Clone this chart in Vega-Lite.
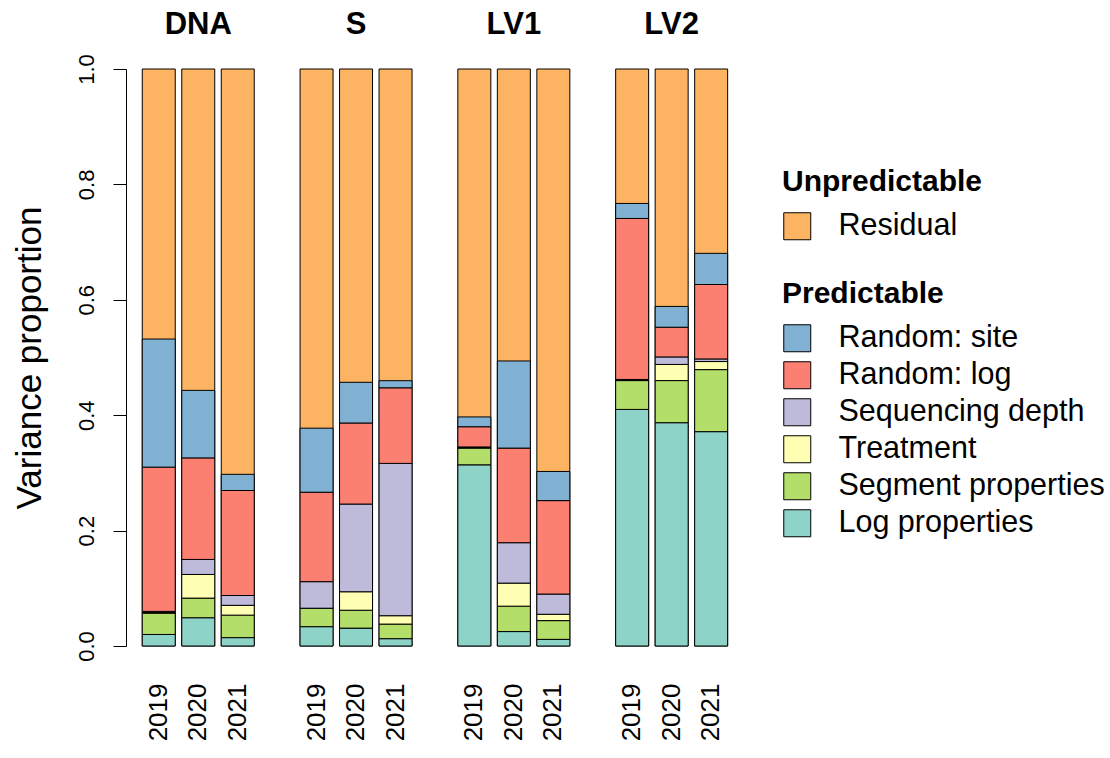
{
  "$schema": "https://vega.github.io/schema/vega-lite/v6.json",
  "background": "white",
  "padding": {"left": 12, "top": 9, "right": 5, "bottom": 5},
  "datasets": {
    "components": [
      {"component": "Log properties", "rank": 1},
      {"component": "Segment properties", "rank": 2},
      {"component": "Treatment", "rank": 3},
      {"component": "Sequencing depth", "rank": 4},
      {"component": "Random: log", "rank": 5},
      {"component": "Random: site", "rank": 6},
      {"component": "Residual", "rank": 7}
    ]
  },
  "data": {"values": [
    {"group": "DNA", "year": "2019", "component": "Log properties", "value": 0.020},
    {"group": "DNA", "year": "2019", "component": "Segment properties", "value": 0.037},
    {"group": "DNA", "year": "2019", "component": "Treatment", "value": 0.001},
    {"group": "DNA", "year": "2019", "component": "Sequencing depth", "value": 0.002},
    {"group": "DNA", "year": "2019", "component": "Random: log", "value": 0.250},
    {"group": "DNA", "year": "2019", "component": "Random: site", "value": 0.222},
    {"group": "DNA", "year": "2019", "component": "Residual", "value": 0.468},
    {"group": "DNA", "year": "2020", "component": "Log properties", "value": 0.049},
    {"group": "DNA", "year": "2020", "component": "Segment properties", "value": 0.034},
    {"group": "DNA", "year": "2020", "component": "Treatment", "value": 0.041},
    {"group": "DNA", "year": "2020", "component": "Sequencing depth", "value": 0.026},
    {"group": "DNA", "year": "2020", "component": "Random: log", "value": 0.176},
    {"group": "DNA", "year": "2020", "component": "Random: site", "value": 0.117},
    {"group": "DNA", "year": "2020", "component": "Residual", "value": 0.557},
    {"group": "DNA", "year": "2021", "component": "Log properties", "value": 0.0145},
    {"group": "DNA", "year": "2021", "component": "Segment properties", "value": 0.039},
    {"group": "DNA", "year": "2021", "component": "Treatment", "value": 0.017},
    {"group": "DNA", "year": "2021", "component": "Sequencing depth", "value": 0.017},
    {"group": "DNA", "year": "2021", "component": "Random: log", "value": 0.182},
    {"group": "DNA", "year": "2021", "component": "Random: site", "value": 0.028},
    {"group": "DNA", "year": "2021", "component": "Residual", "value": 0.7025},
    {"group": "S", "year": "2019", "component": "Log properties", "value": 0.0335},
    {"group": "S", "year": "2019", "component": "Segment properties", "value": 0.032},
    {"group": "S", "year": "2019", "component": "Treatment", "value": 0.0},
    {"group": "S", "year": "2019", "component": "Sequencing depth", "value": 0.046},
    {"group": "S", "year": "2019", "component": "Random: log", "value": 0.155},
    {"group": "S", "year": "2019", "component": "Random: site", "value": 0.111},
    {"group": "S", "year": "2019", "component": "Residual", "value": 0.6225},
    {"group": "S", "year": "2020", "component": "Log properties", "value": 0.031},
    {"group": "S", "year": "2020", "component": "Segment properties", "value": 0.031},
    {"group": "S", "year": "2020", "component": "Treatment", "value": 0.032},
    {"group": "S", "year": "2020", "component": "Sequencing depth", "value": 0.152},
    {"group": "S", "year": "2020", "component": "Random: log", "value": 0.1405},
    {"group": "S", "year": "2020", "component": "Random: site", "value": 0.0705},
    {"group": "S", "year": "2020", "component": "Residual", "value": 0.543},
    {"group": "S", "year": "2021", "component": "Log properties", "value": 0.0127},
    {"group": "S", "year": "2021", "component": "Segment properties", "value": 0.0253},
    {"group": "S", "year": "2021", "component": "Treatment", "value": 0.0145},
    {"group": "S", "year": "2021", "component": "Sequencing depth", "value": 0.264},
    {"group": "S", "year": "2021", "component": "Random: log", "value": 0.131},
    {"group": "S", "year": "2021", "component": "Random: site", "value": 0.0123},
    {"group": "S", "year": "2021", "component": "Residual", "value": 0.5402},
    {"group": "LV1", "year": "2019", "component": "Log properties", "value": 0.314},
    {"group": "LV1", "year": "2019", "component": "Segment properties", "value": 0.029},
    {"group": "LV1", "year": "2019", "component": "Treatment", "value": 0.001},
    {"group": "LV1", "year": "2019", "component": "Sequencing depth", "value": 0.001},
    {"group": "LV1", "year": "2019", "component": "Random: log", "value": 0.035},
    {"group": "LV1", "year": "2019", "component": "Random: site", "value": 0.017},
    {"group": "LV1", "year": "2019", "component": "Residual", "value": 0.603},
    {"group": "LV1", "year": "2020", "component": "Log properties", "value": 0.025},
    {"group": "LV1", "year": "2020", "component": "Segment properties", "value": 0.044},
    {"group": "LV1", "year": "2020", "component": "Treatment", "value": 0.040},
    {"group": "LV1", "year": "2020", "component": "Sequencing depth", "value": 0.070},
    {"group": "LV1", "year": "2020", "component": "Random: log", "value": 0.164},
    {"group": "LV1", "year": "2020", "component": "Random: site", "value": 0.151},
    {"group": "LV1", "year": "2020", "component": "Residual", "value": 0.506},
    {"group": "LV1", "year": "2021", "component": "Log properties", "value": 0.0115},
    {"group": "LV1", "year": "2021", "component": "Segment properties", "value": 0.0325},
    {"group": "LV1", "year": "2021", "component": "Treatment", "value": 0.011},
    {"group": "LV1", "year": "2021", "component": "Sequencing depth", "value": 0.035},
    {"group": "LV1", "year": "2021", "component": "Random: log", "value": 0.162},
    {"group": "LV1", "year": "2021", "component": "Random: site", "value": 0.0505},
    {"group": "LV1", "year": "2021", "component": "Residual", "value": 0.6975},
    {"group": "LV2", "year": "2019", "component": "Log properties", "value": 0.410},
    {"group": "LV2", "year": "2019", "component": "Segment properties", "value": 0.050},
    {"group": "LV2", "year": "2019", "component": "Treatment", "value": 0.001},
    {"group": "LV2", "year": "2019", "component": "Sequencing depth", "value": 0.001},
    {"group": "LV2", "year": "2019", "component": "Random: log", "value": 0.279},
    {"group": "LV2", "year": "2019", "component": "Random: site", "value": 0.026},
    {"group": "LV2", "year": "2019", "component": "Residual", "value": 0.233},
    {"group": "LV2", "year": "2020", "component": "Log properties", "value": 0.387},
    {"group": "LV2", "year": "2020", "component": "Segment properties", "value": 0.073},
    {"group": "LV2", "year": "2020", "component": "Treatment", "value": 0.028},
    {"group": "LV2", "year": "2020", "component": "Sequencing depth", "value": 0.013},
    {"group": "LV2", "year": "2020", "component": "Random: log", "value": 0.0515},
    {"group": "LV2", "year": "2020", "component": "Random: site", "value": 0.036},
    {"group": "LV2", "year": "2020", "component": "Residual", "value": 0.4115},
    {"group": "LV2", "year": "2021", "component": "Log properties", "value": 0.3715},
    {"group": "LV2", "year": "2021", "component": "Segment properties", "value": 0.1075},
    {"group": "LV2", "year": "2021", "component": "Treatment", "value": 0.014},
    {"group": "LV2", "year": "2021", "component": "Sequencing depth", "value": 0.0045},
    {"group": "LV2", "year": "2021", "component": "Random: log", "value": 0.129},
    {"group": "LV2", "year": "2021", "component": "Random: site", "value": 0.054},
    {"group": "LV2", "year": "2021", "component": "Residual", "value": 0.3195}
  ]},
  "transform": [
    {"lookup": "component", "from": {"data": {"name": "components"}, "key": "component", "fields": ["rank"]}}
  ],
  "facet": {
    "column": {
      "field": "group", "type": "nominal", "sort": ["DNA", "S", "LV1", "LV2"], "title": null,
      "header": {"labelFontSize": 31, "labelFontWeight": "bold", "labelFont": "Liberation Sans", "labelColor": "black", "labelPadding": 27}
    }
  },
  "spacing": 38.8,
  "spec": {
    "width": 118.5,
    "height": 577,
    "encoding": {
      "x": {
        "field": "year", "type": "ordinal",
        "scale": {"paddingInner": 0.165, "paddingOuter": 0.0825},
        "axis": {"title": null, "domain": false, "ticks": false, "tickSize": 0, "labelAngle": 270, "labelAlign": "right", "labelBaseline": "middle", "labelFontSize": 26, "labelPadding": 36, "labelColor": "black", "labelFont": "Liberation Sans"}
      }
    },
    "layer": [
      {
        "transform": [{"filter": "datum.component === 'Residual'"}],
        "mark": {"type": "bar", "stroke": "black", "strokeWidth": 1},
        "encoding": {
          "y": {
            "field": "value", "type": "quantitative", "stack": "normalize", "title": "Variance proportion",
            "scale": {"domain": [0, 1]},
            "axis": {"values": [0, 0.2, 0.4, 0.6, 0.8, 1], "format": ".1f", "grid": false, "domainColor": "black", "tickColor": "black", "tickSize": 13, "offset": 13, "labelAngle": 270, "labelAlign": "center", "labelBaseline": "alphabetic", "labelFontSize": 22, "labelPadding": 20, "labelColor": "black", "labelFont": "Liberation Sans", "titleFont": "Liberation Sans", "titleFontSize": 35, "titleFontWeight": "normal", "titleColor": "black", "titlePadding": 28}
          },
          "color": {
            "field": "component", "type": "nominal",
            "scale": {"domain": ["Residual"], "range": ["#FDB462"]},
            "legend": {"title": "Unpredictable", "orient": "none", "legendX": 643, "legendY": 98}
          }
        }
      },
      {
        "transform": [{"filter": "datum.component !== 'Residual'"}],
        "mark": {"type": "bar", "stroke": "black", "strokeWidth": 1},
        "encoding": {
          "y": {
            "field": "value", "type": "quantitative", "stack": "zero", "title": "Variance proportion",
            "scale": {"domain": [0, 1]},
            "axis": {"values": [0, 0.2, 0.4, 0.6, 0.8, 1], "format": ".1f", "grid": false, "domainColor": "black", "tickColor": "black", "tickSize": 13, "offset": 13, "labelAngle": 270, "labelAlign": "center", "labelBaseline": "alphabetic", "labelFontSize": 22, "labelPadding": 20, "labelColor": "black", "labelFont": "Liberation Sans", "titleFont": "Liberation Sans", "titleFontSize": 35, "titleFontWeight": "normal", "titleColor": "black", "titlePadding": 28}
          },
          "fill": {
            "field": "component", "type": "nominal",
            "scale": {"domain": ["Random: site", "Random: log", "Sequencing depth", "Treatment", "Segment properties", "Log properties"], "range": ["#80B1D3", "#FB8072", "#BEBADA", "#FFFFB3", "#B3DE69", "#8DD3C7"]},
            "legend": {"title": "Predictable", "orient": "none", "legendX": 643, "legendY": 210}
          },
          "order": {"field": "rank", "type": "quantitative", "sort": "ascending"}
        }
      }
    ]
  },
  "config": {
    "font": "Liberation Sans",
    "view": {"stroke": null},
    "legend": {
      "titleFontSize": 30, "titleFontWeight": "bold", "titleColor": "black", "titleFont": "Liberation Sans", "titleLimit": 500,
      "labelFontSize": 30.5, "labelColor": "black", "labelFont": "Liberation Sans", "labelOffset": 26, "labelLimit": 500,
      "symbolType": "square", "symbolSize": 729, "symbolStrokeColor": "black", "symbolStrokeWidth": 1,
      "rowPadding": 5, "titlePadding": 14
    }
  }
}
